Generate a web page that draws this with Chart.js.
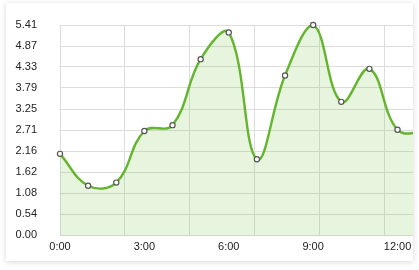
<!DOCTYPE html>
<html>
<head>
<meta charset="utf-8">
<script src="https://cdn.jsdelivr.net/npm/chart.js@4"></script>
<style>
  html, body { margin: 0; padding: 0; background: #ffffff; }
  #card { position: absolute; left: 6px; top: 3px; width: 407px; height: 258px; background: #fff;
          box-shadow: 0 1px 6px rgba(0,0,0,0.16); }
  canvas { display: block; }
</style>
</head>
<body>
<div id="card"><canvas id="c" width="407" height="258"></canvas></div>
<script>
const hours = [0, 1, 2, 3, 4, 5, 6, 7, 8, 9, 10, 11, 12, 13];
const values = [2.09, 1.27, 1.35, 2.68, 2.83, 4.53, 5.22, 1.95, 4.11, 5.41, 3.43, 4.28, 2.71, 2.65];
const xTickLabels = ['0:00', '3:00', '6:00', '9:00', '12:00'];
const xTickHours = [0, 3, 6, 9, 12];
const yTickLabels = ['0.00', '0.54', '1.08', '1.62', '2.16', '2.71', '3.25', '3.79', '4.33', '4.87', '5.41'];
const yMax = 5.41;

const gridStep = 2.304;
const xMax = 12.55;

const labelMap = {};
xTickHours.forEach((h, i) => labelMap[h] = xTickLabels[i]);

const font = { family: 'Liberation Sans, Arial, sans-serif', size: 11 };

new Chart(document.getElementById('c'), {
  type: 'line',
  data: {
    datasets: [{
      data: hours.map((h, i) => ({ x: h, y: values[i] })),
      borderColor: '#64b52e',
      borderWidth: 2.4,
      backgroundColor: 'rgba(110,190,60,0.17)',
      fill: 'origin',
      tension: 0.4,
      clip: { left: 6, top: 6, right: 0, bottom: 0 },
      pointRadius: 2.6,
      pointBorderWidth: 1.2,
      pointBorderColor: '#555',
      pointBackgroundColor: '#fff'
    }]
  },
  options: {
    responsive: false,
    animation: false,
    layout: { autoPadding: false, padding: { top: 22, right: 0, left: 0, bottom: 0 } },
    plugins: { legend: { display: false }, tooltip: { enabled: false } },
    scales: {
      x: {
        type: 'linear',
        min: 0,
        max: xMax,
        afterBuildTicks: (s) => {
          const t = xTickHours.map(v => ({ value: v }));
          for (let k = 1; k * gridStep <= xMax; k++) {
            t.push({ value: +(k * gridStep).toFixed(3) });
          }
          t.sort((a, b) => a.value - b.value);
          s.ticks = t;
        },
        afterFit: (s) => { s.height = 26; s.paddingLeft = 0; s.paddingRight = 0; },
        ticks: {
          autoSkip: false,
          maxRotation: 0,
          padding: 5,
          color: '#222',
          font: font,
          callback: (v) => labelMap[v] !== undefined ? labelMap[v] : ''
        },
        grid: {
          drawTicks: false,
          color: (ctx) => (ctx.tick && labelMap[ctx.tick.value] !== undefined && ctx.tick.value !== 0) ? 'rgba(0,0,0,0)' : '#dcdcdc',
          lineWidth: 1
        },
        border: { display: true, color: '#d4d4d4', width: 1 }
      },
      y: {
        min: 0,
        max: yMax,
        afterBuildTicks: (s) => {
          s.ticks = yTickLabels.map((l, i) => ({ value: yMax * i / 10 }));
        },
        afterFit: (s) => { s.width = 54; s.paddingTop = 0; s.paddingBottom = 0; },
        ticks: {
          padding: 23,
          color: '#222',
          font: font,
          callback: (v, i) => yTickLabels[i]
        },
        grid: { drawTicks: false, color: '#dcdcdc', lineWidth: 1 },
        border: { display: true, color: '#dcdcdc', width: 1 }
      }
    }
  }
});
</script>
</body>
</html>
